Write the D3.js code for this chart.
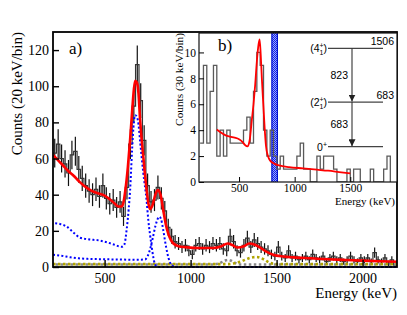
<!DOCTYPE html>
<html>
<head>
<meta charset="utf-8">
<script src="https://cdn.jsdelivr.net/npm/d3@7/dist/d3.min.js"></script>
<style>
  body { margin: 0; background: #fff; }
  svg { display: block; }
  text { font-family: "Liberation Serif", "Times New Roman", serif; fill: #000; }
</style>
</head>
<body>
<svg id="chart" width="407" height="315"></svg>
<script>
// ---- main spectrum, 20 keV bins from 200 keV ----
var mainBinStart = 200, mainBinWidth = 20;
var mainCounts = [
  63, 68, 60, 57, 52, 62, 64, 54, 49, 45,
  42, 40, 43, 39, 45, 38, 35, 37, 33, 36,
  28, 44, 68, 89, 112, 92, 70, 45, 36, 37,
  44, 38, 31, 22, 17, 14, 13, 11, 12, 9,
  7, 12, 13, 10, 12, 11, 13, 12, 13, 10,
  9, 17, 14, 9, 8, 12, 16, 11, 15, 13,
  11, 10, 9, 7, 6, 11, 6, 5, 9, 5,
  6, 4, 5, 6, 4, 7, 5, 4, 6, 3,
  5, 6, 4, 5, 3, 4, 6, 4, 3, 5,
  4, 5, 3, 8, 4, 3, 5, 2, 4, 1
];

// total fit (red)
var fitTotal = [
  [200,62],[230,59],[260,56],[290,53],[320,50.5],[350,47.5],[380,45],[410,43],
  [440,41.5],[470,40.5],[500,39.5],[530,37.5],[560,35],[580,33.5],[600,33.5],
  [610,36],[620,42],[635,55],[648,70],[660,86],[670,98],[678,103],[688,102],
  [697,96],[706,82],[715,71],[725,61],[735,51],[745,42],[755,35],[765,32],
  [780,34.5],[795,40],[810,42.5],[825,40],[840,32],[855,24],[870,18.5],[885,15],
  [900,13],[930,11.5],[970,11],[1050,10.5],[1130,10.5],[1180,11.5],[1215,13],
  [1245,12],[1270,10.8],[1310,11.5],[1340,13],[1370,12.5],[1400,11],[1440,8.5],
  [1480,6.8],[1540,5.8],[1600,5.3],[1700,4.8],[1800,4.3],[1900,3.9],[2000,3.5],
  [2100,3.2],[2200,2.9]
];

// 683 keV response (blue dotted)
var resp683 = [
  [200,24.3],[240,23.8],[280,22.3],[320,19],[357,16.2],[400,15.4],[473,14.6],
  [520,13.5],[560,12.2],[600,11.2],[615,12.5],[628,20.5],[640,32],[648,42],
  [660,65],[670,80],[678,84],[688,83],[697,79],[706,70],[725,52],[745,36],
  [754,26],[764,18],[774,11],[783,5.5],[793,1.5],[805,0.3],[820,0],[2200,0]
];

// 823 keV response (blue dotted)
var resp823 = [
  [200,6.8],[250,6.2],[300,5.4],[350,4.8],[400,4.5],[500,4.3],[600,4.1],
  [700,4.0],[735,4.2],[750,6],[765,10],[780,16],[795,22.5],[808,26.5],
  [818,27.8],[828,26.5],[840,21],[852,14],[865,7.5],[878,3],[890,1],
  [905,0.2],[920,0],[2200,0]
];

// small components near 1215 keV (grey) and 1370 keV (olive)
var greyComp = [
  [200,1.4],[1130,1.4],[1160,1.8],[1185,2.8],[1205,3.7],[1218,3.9],[1232,3.6],
  [1250,2.7],[1270,1.8],[1295,1.4],[2200,1.4]
];
var oliveComp = [
  [200,1.6],[1220,1.6],[1260,2.2],[1300,3.3],[1335,4.7],[1365,5.4],[1385,5.5],
  [1405,5.1],[1430,4],[1455,2.6],[1480,1.8],[1500,1.6],[2200,1.6]
];

var mainXTicks = [500, 1000, 1500, 2000];
var mainYTicks = [0, 20, 40, 60, 80, 100, 120];

// ---- inset, 30 keV bins from 150 keV ----
var insetBinStart = 150, insetBinWidth = 30;
var insetCounts = [
  3, 9, 3, 7, 9, 2, 4, 2, 4, 3,
  3, 3, 3, 4, 5, 3, 7, 10, 9, 4,
  2, 4, 2, 1, 2, 1, 1, 1, 1, 2,
  3, 1, 1, 0, 0, 2, 1, 2, 2, 2,
  1, 0, 0, 0, 1, 0, 1, 1, 0, 0,
  0, 1, 0, 0, 0, 1, 2
];
var insetFit = [
  [300,4.05],[340,3.8],[380,3.6],[420,3.5],[460,3.42],[500,3.3],[530,3.1],
  [555,2.85],[575,2.75],[595,3.2],[615,4.8],[630,6],[645,7.5],[660,9.3],
  [675,10.6],[685,11],[695,9.8],[705,8],[718,6],[730,4.2],[742,2.8],[760,2.0],
  [780,1.65],[820,1.4],[860,1.28],[950,1.15],[1075,1.05],[1200,0.95],
  [1300,0.87],[1400,0.77],[1500,0.67]
];
var gateBand = [795, 845];
var insetXTicks = [500, 1000, 1500];
var insetYTicks = [0, 2, 4, 6, 8, 10];

// level scheme
var levels = [
  {energy: 1506, spin: '4'},
  {energy: 683, spin: '2'},
  {energy: 0, spin: null}
];
var transitions = [
  {from: 1506, to: 683, label: '823'},
  {from: 683, to: 0, label: '683'}
];

var svg = d3.select('#chart');

// ---------------- main plot ----------------
var m = {left: 53, right: 397, top: 32, bottom: 267};
var x = d3.scaleLinear().domain([200, 2200]).range([m.left, m.right]);
var y = d3.scaleLinear().domain([0, 130]).range([m.bottom, m.top]);

var defs = svg.append('defs');
defs.append('clipPath').attr('id', 'clipMain')
  .append('rect').attr('x', m.left).attr('y', m.top)
  .attr('width', m.right - m.left).attr('height', m.bottom - m.top + 2);

var pat = defs.append('pattern').attr('id', 'checker')
  .attr('width', 2).attr('height', 2).attr('patternUnits', 'userSpaceOnUse');
pat.append('rect').attr('width', 2).attr('height', 2).attr('fill', '#9aa6ff');
pat.append('rect').attr('width', 1).attr('height', 1).attr('fill', '#1020e8');
pat.append('rect').attr('x', 1).attr('y', 1).attr('width', 1).attr('height', 1).attr('fill', '#1020e8');

defs.append('marker').attr('id', 'arrow')
  .attr('viewBox', '0 0 10 10').attr('refX', 10).attr('refY', 5)
  .attr('markerWidth', 7).attr('markerHeight', 7).attr('markerUnits', 'userSpaceOnUse')
  .attr('orient', 'auto')
  .append('path').attr('d', 'M0,0L10,5L0,10Z').attr('fill', '#222');

var plot = svg.append('g').attr('clip-path', 'url(#clipMain)');

function histPoints(counts, start, width) {
  var pts = counts.map(function(c, i) { return [start + i * width, c]; });
  pts.push([start + counts.length * width, counts[counts.length - 1]]);
  return pts;
}

var stepLine = d3.line()
  .x(function(d) { return x(d[0]); })
  .y(function(d) { return y(d[1]); })
  .curve(d3.curveStepAfter);

var smooth = d3.line()
  .x(function(d) { return x(d[0]); })
  .y(function(d) { return y(d[1]); })
  .curve(d3.curveMonotoneX);

// error bars
plot.append('g').selectAll('line').data(mainCounts).enter().append('line')
  .attr('x1', function(d, i) { return x(mainBinStart + (i + 0.5) * mainBinWidth); })
  .attr('x2', function(d, i) { return x(mainBinStart + (i + 0.5) * mainBinWidth); })
  .attr('y1', function(d) { return y(Math.max(0, d - Math.sqrt(d))); })
  .attr('y2', function(d) { return y(d + Math.sqrt(d)); })
  .attr('stroke', '#111').attr('stroke-width', 1.2);

plot.append('path')
  .attr('d', stepLine(histPoints(mainCounts, mainBinStart, mainBinWidth)))
  .attr('fill', 'none').attr('stroke', '#333').attr('stroke-width', 1.2);

// components
plot.append('path').attr('d', smooth(greyComp))
  .attr('fill', 'none').attr('stroke', '#888').attr('stroke-width', 2.6)
  .attr('stroke-dasharray', '2.5,2.5').attr('stroke-dashoffset', 2.5);
plot.append('path').attr('d', smooth(oliveComp))
  .attr('fill', 'none').attr('stroke', '#b0a400').attr('stroke-width', 2.6)
  .attr('stroke-dasharray', '2.5,2.5');
plot.append('path').attr('d', smooth(resp823))
  .attr('fill', 'none').attr('stroke', '#0000ff').attr('stroke-width', 2)
  .attr('stroke-dasharray', '2,2.2');
plot.append('path').attr('d', smooth(resp683))
  .attr('fill', 'none').attr('stroke', '#0000ff').attr('stroke-width', 2)
  .attr('stroke-dasharray', '2,2.2').attr('stroke-dashoffset', 2);
plot.append('path').attr('d', smooth(fitTotal))
  .attr('fill', 'none').attr('stroke', '#ff0000').attr('stroke-width', 2.6);

// axes
var yAxis = d3.axisLeft(y).tickValues(mainYTicks)
  .tickSizeInner(-6).tickSizeOuter(0).tickPadding(4);
var gy = svg.append('g').attr('transform', 'translate(' + m.left + ',0)').call(yAxis);
var xAxis = d3.axisBottom(x).tickValues(mainXTicks).tickFormat(d3.format('d'))
  .tickSizeInner(-7).tickSizeOuter(0).tickPadding(6);
var gx = svg.append('g').attr('transform', 'translate(0,' + m.bottom + ')').call(xAxis);
[gx, gy].forEach(function(g) {
  g.select('.domain').remove();
  g.attr('font-family', null).attr('font-size', 14);
  g.selectAll('line').attr('stroke', '#000').attr('stroke-width', 1.4);
});

svg.append('rect').attr('x', m.left).attr('y', m.top)
  .attr('width', m.right - m.left).attr('height', m.bottom - m.top)
  .attr('fill', 'none').attr('stroke', '#000').attr('stroke-width', 1.8);

svg.append('text').attr('transform', 'translate(22,' + m.top + ') rotate(-90)')
  .attr('text-anchor', 'end').attr('font-size', 15).text('Counts (20 keV/bin)');
svg.append('text').attr('x', m.right).attr('y', 298)
  .attr('text-anchor', 'end').attr('font-size', 15).text('Energy (keV)');
svg.append('text').attr('x', 69).attr('y', 54).attr('font-size', 17).text('a)');

// ---------------- inset ----------------
var n = {left: 199, right: 397, top: 33, bottom: 182};
var xi = d3.scaleLinear().domain([140, 1920]).range([n.left, n.right]);
var yi = d3.scaleLinear().domain([0, 11.5]).range([n.bottom, n.top]);

defs.append('clipPath').attr('id', 'clipInset')
  .append('rect').attr('x', n.left).attr('y', n.top)
  .attr('width', n.right - n.left).attr('height', n.bottom - n.top);

svg.append('rect').attr('x', n.left).attr('y', n.top)
  .attr('width', n.right - n.left).attr('height', n.bottom - n.top)
  .attr('fill', '#fff');

var inset = svg.append('g').attr('clip-path', 'url(#clipInset)');

inset.append('rect')
  .attr('x', xi(gateBand[0])).attr('y', n.top)
  .attr('width', xi(gateBand[1]) - xi(gateBand[0])).attr('height', n.bottom - n.top)
  .attr('fill', 'url(#checker)');
gateBand.forEach(function(e) {
  inset.append('line').attr('x1', xi(e)).attr('x2', xi(e))
    .attr('y1', n.top).attr('y2', n.bottom)
    .attr('stroke', '#0010d0').attr('stroke-width', 1.2);
});

var stepInset = d3.line()
  .x(function(d) { return xi(d[0]); })
  .y(function(d) { return yi(d[1]); })
  .curve(d3.curveStepAfter);
var smoothInset = d3.line()
  .x(function(d) { return xi(d[0]); })
  .y(function(d) { return yi(d[1]); })
  .curve(d3.curveMonotoneX);

var ipts = histPoints(insetCounts, insetBinStart, insetBinWidth);
ipts.push([insetBinStart + insetCounts.length * insetBinWidth, 0]);
inset.append('path').attr('d', stepInset(ipts))
  .attr('fill', 'none').attr('stroke', '#5a5a5a').attr('stroke-width', 1.3);

inset.append('path').attr('d', smoothInset(insetFit))
  .attr('fill', 'none').attr('stroke', '#ff0000').attr('stroke-width', 1.8);

// level scheme
var ly = d3.scaleLinear().domain([0, 1506]).range([146.7, 48.3]);
var lvl = svg.append('g').attr('font-family', '"Liberation Sans", Arial, sans-serif')
  .attr('font-size', 10.5);
levels.forEach(function(l) {
  lvl.append('line').attr('x1', 328).attr('x2', 383)
    .attr('y1', ly(l.energy)).attr('y2', ly(l.energy))
    .attr('stroke', '#444').attr('stroke-width', 1.3);
  var t = lvl.append('text').attr('x', 327).attr('y', ly(l.energy) + 4)
    .attr('text-anchor', 'end').style('font-family', 'inherit').attr('fill', '#222');
  if (l.spin) {
    t.append('tspan').text('(' + l.spin);
    t.append('tspan').attr('font-size', 7).attr('dy', -4).text('+');
    t.append('tspan').attr('font-size', 7).attr('dx', -4).attr('dy', 7).text('1');
    t.append('tspan').attr('dy', -3).text(')');
  } else {
    t.append('tspan').text('0');
    t.append('tspan').attr('font-size', 7).attr('dy', -4).text('+');
  }
  if (l.energy > 0) {
    lvl.append('text').attr('x', 394).attr('y', ly(l.energy) - 3)
      .attr('text-anchor', 'end').style('font-family', 'inherit').attr('fill', '#222')
      .text(l.energy);
  }
});
transitions.forEach(function(tr) {
  lvl.append('line').attr('x1', 352).attr('x2', 352)
    .attr('y1', ly(tr.from)).attr('y2', ly(tr.to) - 0.5)
    .attr('stroke', '#333').attr('stroke-width', 1.1)
    .attr('marker-end', 'url(#arrow)');
  lvl.append('text').attr('x', 348).attr('y', (ly(tr.from) + ly(tr.to)) / 2 + 4)
    .attr('text-anchor', 'end').style('font-family', 'inherit').attr('fill', '#222')
    .text(tr.label);
});

// inset axes
var yiAxis = d3.axisLeft(yi).tickValues(insetYTicks)
  .tickSizeInner(-5).tickSizeOuter(0).tickPadding(3);
var giy = svg.append('g').attr('transform', 'translate(' + n.left + ',0)').call(yiAxis);
var xiAxis = d3.axisBottom(xi).tickValues(insetXTicks).tickFormat(d3.format('d'))
  .tickSizeInner(-5).tickSizeOuter(0).tickPadding(2);
var gix = svg.append('g').attr('transform', 'translate(0,' + n.bottom + ')').call(xiAxis);
[gix, giy].forEach(function(g) {
  g.select('.domain').remove();
  g.attr('font-family', null).attr('font-size', 11.5);
  g.selectAll('line').attr('stroke', '#000').attr('stroke-width', 1);
});

svg.append('rect').attr('x', n.left).attr('y', n.top)
  .attr('width', n.right - n.left).attr('height', n.bottom - n.top)
  .attr('fill', 'none').attr('stroke', '#111').attr('stroke-width', 1.2);

svg.append('text').attr('transform', 'translate(183,' + n.top + ') rotate(-90)')
  .attr('text-anchor', 'end').attr('font-size', 11.3).text('Counts (30 keV/bin)');
svg.append('text').attr('x', 395).attr('y', 205)
  .attr('text-anchor', 'end').attr('font-size', 11).text('Energy (keV)');
svg.append('text').attr('x', 218).attr('y', 51).attr('font-size', 17).text('b)');
</script>
</body>
</html>
